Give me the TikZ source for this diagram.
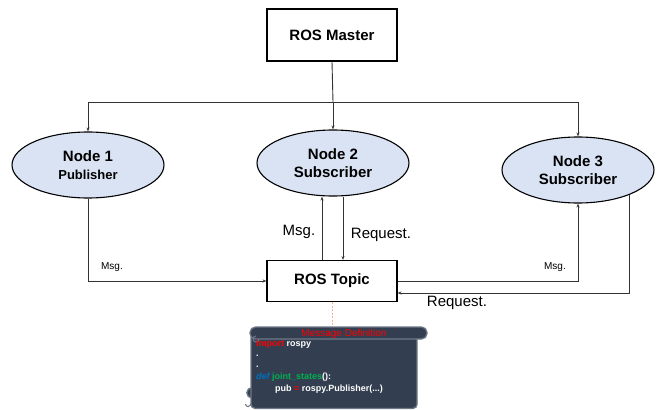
\documentclass[tikz,border=0pt]{standalone}
\usepackage{fontspec}
\setmainfont{Liberation Sans}
\usetikzlibrary{arrows.meta,shapes.geometric}
\definecolor{ellfill}{HTML}{DAE3F3}
\definecolor{scrollfill}{HTML}{333F50}
\definecolor{scrolledge}{HTML}{6E7785}
\definecolor{dashor}{HTML}{F4B183}
\definecolor{kwred}{HTML}{FF0000}
\definecolor{kwblue}{HTML}{0070C0}
\definecolor{kwgreen}{HTML}{00B050}
\definecolor{linecol}{HTML}{333333}
\tikzset{
  rosbox/.style={draw=black, line width=1.1pt, fill=white, minimum width=130pt, minimum height=52pt, inner sep=0pt, font=\fontsize{15}{18}\selectfont\bfseries},
  rosell/.style={ellipse, draw=black, line width=1.1pt, fill=ellfill, minimum width=152pt, minimum height=66pt, inner sep=0pt, align=center, font=\fontsize{15}{18.5}\selectfont\bfseries},
  conn/.style={draw=linecol, line width=0.9pt},
  arr/.style={conn, -{Stealth[length=4pt,width=3pt]}},
  biglabel/.style={font=\fontsize{15}{18}\selectfont, inner sep=0pt},
  smalllabel/.style={font=\fontsize{10}{12}\selectfont, inner sep=0pt},
  codeline/.style={anchor=west, inner sep=0pt, text=white, font=\fontsize{9}{11}\selectfont\bfseries},
}
\begin{document}
\begin{tikzpicture}[x=1pt,y=-1pt]
\useasboundingbox (0,0) rectangle (657,410);

% nodes
\node[rosbox] (master) at (332,35) {ROS Master};
\node[rosell] (n1) at (88,165) {Node 1\\{\fontsize{13}{15}\selectfont Publisher}};
\node[rosell] (n2) at (333,163) {Node 2\\Subscriber};
\node[rosell] (n3) at (578,170) {Node 3\\Subscriber};
\node[rosbox, minimum height=41pt] (topic) at (332,281) {ROS Topic};

% bus from master
\coordinate (bus) at (333,102);
\draw[conn] (master.south) -- (bus);
\draw[arr] (bus) -| (n1);
\draw[arr] (bus) -- (n2);
\draw[arr] (bus) -| (n3);

% node 2 <-> topic
\draw[arr] ([xshift=-10pt]topic.north) -- ([xshift=-10pt]topic.north |- n2.south);
\draw[arr] ([xshift=11pt]topic.north |- n2.south) -- ([xshift=11pt]topic.north);
\node[biglabel] (lmsg2) at (299,232) {Msg.};
\node[biglabel] (lreq2) at (381,235) {Request.};

% node 1 -> topic
\draw[arr] (n1.south) |- (topic.west);
\node[smalllabel] (lmsg1) at (112,267) {Msg.};

% topic -> node 3
\draw[arr] (topic.east) -| (n3.south);
\node[smalllabel] (lmsg3) at (555,267) {Msg.};

% node 3 -> topic (request)
\draw[arr] (n3.-26.5) |- ([yshift=-12pt]topic.east);
\node[biglabel] (lreq3) at (457,303) {Request.};

% scroll
\coordinate (scrolltop) at (332,327);
\draw[dashor, line width=0.9pt, dash pattern=on 2pt off 1.5pt] (topic.south) -- (scrolltop);

\begin{scope}[scrolledge, line width=1.3pt]
  % bottom-left roll
  \filldraw[fill=scrollfill] (252,398) arc[start angle=90, end angle=270, radius=5.2] -- cycle;
  % body
  \filldraw[fill=scrollfill, rounded corners=4pt] (251,333) -- (251,408.4) -- (417,408.4) -- (417,336) -- cycle;
  \draw[line width=1.1pt] (245.5,404) arc[start angle=180, end angle=-10, radius=2.6];
  % top bar
  \filldraw[fill=scrollfill, rounded corners=5.5pt] (250,327) rectangle (427,339);
  % top-left curl
  \draw[line width=1pt] (256,336) arc[start angle=270, end angle=0, radius=3];
\end{scope}

\node[inner sep=0pt, text=kwred, font=\fontsize{10}{12}\selectfont] (title) at (344,334) {Message Definition};
\node[codeline] (c1) at (256,344) {\textcolor{kwred}{import} rospy};
\node[codeline] (c2) at (256,356) {.};
\node[codeline] (c3) at (256,367) {.};
\node[codeline] (c4) at (256,377) {\textcolor{kwblue}{\itshape def} \textcolor{kwgreen}{joint\_states}():};
\node[codeline] (c5) at (275,389) {pub \textcolor{kwred}{=} rospy.Publisher(...)};
\end{tikzpicture}
\end{document}
